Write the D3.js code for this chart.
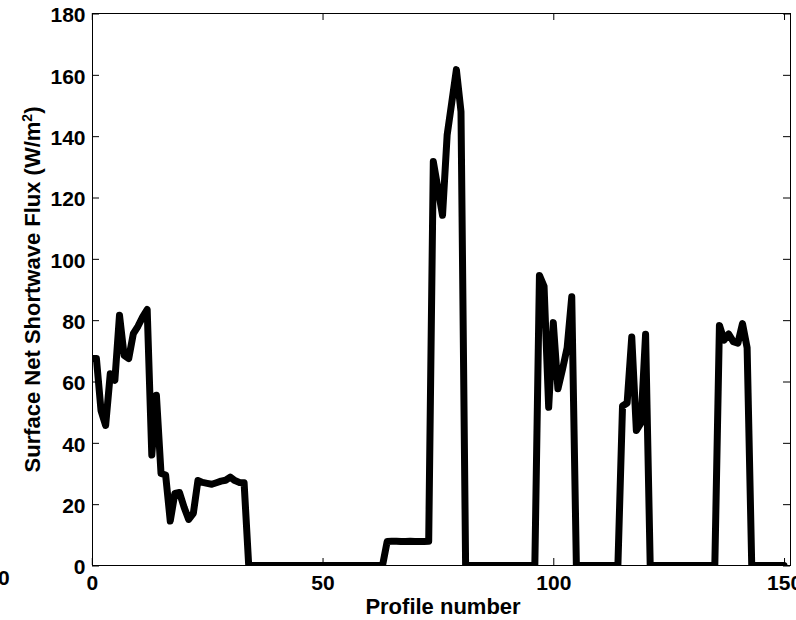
<!DOCTYPE html>
<html>
<head>
<meta charset="utf-8">
<script src="https://cdn.jsdelivr.net/npm/d3@7"></script>
<style>
  html, body { margin: 0; padding: 0; background: #ffffff; }
  svg { display: block; }
  text { font-family: "Liberation Sans", Arial, Helvetica, sans-serif; font-weight: bold; fill: #000; }
</style>
</head>
<body>
<svg id="chart" width="796" height="620"></svg>
<script>
// Surface net shortwave flux (W/m^2) for each profile, profile 0 onward
const fluxStart = [67.5, 67.5, 50.5, 45.7, 62.5, 60.4, 81.6, 68.5, 67.5, 75.6,
                   78, 81, 83.5, 36, 55.5, 30, 29.5, 14.5, 23.5, 23.8,
                   19, 15, 17, 27.7, 27.1, 26.8, 26.5, 27, 27.5, 27.8,
                   28.8, 27.7, 27.1, 27];
const fluxNightA = [0, 0, 0, 0, 0, 0, 0, 0, 0, 0, 0, 0, 0, 0, 0,
                    0, 0, 0, 0, 0, 0, 0, 0, 0, 0, 0, 0, 0, 0, 0];
const fluxLow = [7.8, 7.9, 7.9, 7.8, 7.8, 7.9, 7.8, 7.8, 7.8, 7.9];
const fluxPeak = [131.7, 123, 114.2, 140.4, 151, 161.7, 148];
const fluxNightB = [0, 0, 0, 0, 0, 0, 0, 0, 0, 0, 0, 0, 0, 0, 0, 0];
const fluxMidA = [94.6, 91, 51.6, 79.2, 57.6, 64, 71, 87.6];
const fluxNightC = [0, 0, 0, 0, 0, 0, 0, 0, 0, 0];
const fluxMidB = [52, 53, 74.5, 44, 46.5, 75.4];
const fluxNightD = [0, 0, 0, 0, 0, 0, 0, 0, 0, 0, 0, 0, 0, 0, 0];
const fluxLate = [78.3, 73.5, 75.5, 73, 72.5, 78.9, 71];
const fluxEnd = [0, 0, 0, 0, 0, 0, 0, 0];

const xTicks = [0, 50, 100, 150];
const yTicks = [0, 20, 40, 60, 80, 100, 120, 140, 160, 180];
const xLimit = [0, 151.4];
const yLimit = [0, 180];

const flux = [].concat(fluxStart, fluxNightA, fluxLow, fluxPeak, fluxNightB,
                       fluxMidA, fluxNightC, fluxMidB, fluxNightD, fluxLate, fluxEnd);

const svg = d3.select("#chart");
const box = { left: 92.5, right: 790.5, top: 13.5, bottom: 565.5 };

const x = d3.scaleLinear().domain(xLimit).range([91.8, box.right]);
const y = d3.scaleLinear().domain(yLimit).range([box.bottom, box.top]);

svg.append("defs").append("clipPath").attr("id", "plotClip")
  .append("rect")
  .attr("x", box.left).attr("y", box.top)
  .attr("width", box.right - box.left).attr("height", box.bottom - box.top);

// flux trace
const line = d3.line().x((d, i) => x(i)).y(d => y(d));
svg.append("path")
  .datum(flux)
  .attr("clip-path", "url(#plotClip)")
  .attr("d", line)
  .attr("fill", "none")
  .attr("stroke", "#000")
  .attr("stroke-width", 7)
  .attr("stroke-linejoin", "round")
  .attr("stroke-linecap", "round");

// axes with inward ticks
const tickLen = 7;
const fontSize = 21;

const gx = svg.append("g").attr("transform", `translate(0,${box.bottom - 0.5})`)
  .call(d3.axisBottom(x).tickValues(xTicks).tickSize(-tickLen).tickPadding(10.5).tickFormat(d3.format("d")));
const gxTop = svg.append("g").attr("transform", `translate(0,${box.top - 0.5})`)
  .call(d3.axisTop(x).tickValues(xTicks).tickSize(-tickLen).tickFormat(""));
const gy = svg.append("g").attr("transform", `translate(${box.left - 0.5},0)`)
  .call(d3.axisLeft(y).tickValues(yTicks).tickSize(-tickLen).tickPadding(6.5).tickFormat(d3.format("d")));
const gyRight = svg.append("g").attr("transform", `translate(${box.right - 0.5},0)`)
  .call(d3.axisRight(y).tickValues(yTicks).tickSize(-tickLen).tickFormat(""));

[gx, gxTop, gy, gyRight].forEach(g => {
  g.select(".domain").remove();
  g.selectAll(".tick line").attr("stroke", "#000").attr("stroke-width", 1);
  g.selectAll(".tick text")
    .attr("fill", "#000")
    .style("font-family", '"Liberation Sans", Arial, sans-serif')
    .style("font-weight", "bold")
    .style("font-size", fontSize + "px");
});
gy.selectAll(".tick text").attr("dy", "0.39em");

// axes box
svg.append("rect")
  .attr("x", box.left).attr("y", box.top)
  .attr("width", box.right - box.left).attr("height", box.bottom - box.top)
  .attr("fill", "none").attr("stroke", "#000").attr("stroke-width", 1);

// axis titles
svg.append("text")
  .attr("x", 443).attr("y", 614)
  .attr("text-anchor", "middle")
  .style("font-size", "22px")
  .text("Profile number");

const yTitle = svg.append("text")
  .attr("transform", `translate(40,${(box.top + box.bottom) / 2}) rotate(-90)`)
  .attr("text-anchor", "middle")
  .style("font-size", "22px");
yTitle.append("tspan").text("Surface Net Shortwave Flux (W/m");
yTitle.append("tspan").attr("dy", -8).style("font-size", "14px").text("2");
yTitle.append("tspan").attr("dy", 8).text(")");

// edge of the neighbouring panel's tick label
svg.append("text")
  .attr("x", -2).attr("y", 585)
  .style("font-size", fontSize + "px")
  .text("0");
</script>
</body>
</html>
